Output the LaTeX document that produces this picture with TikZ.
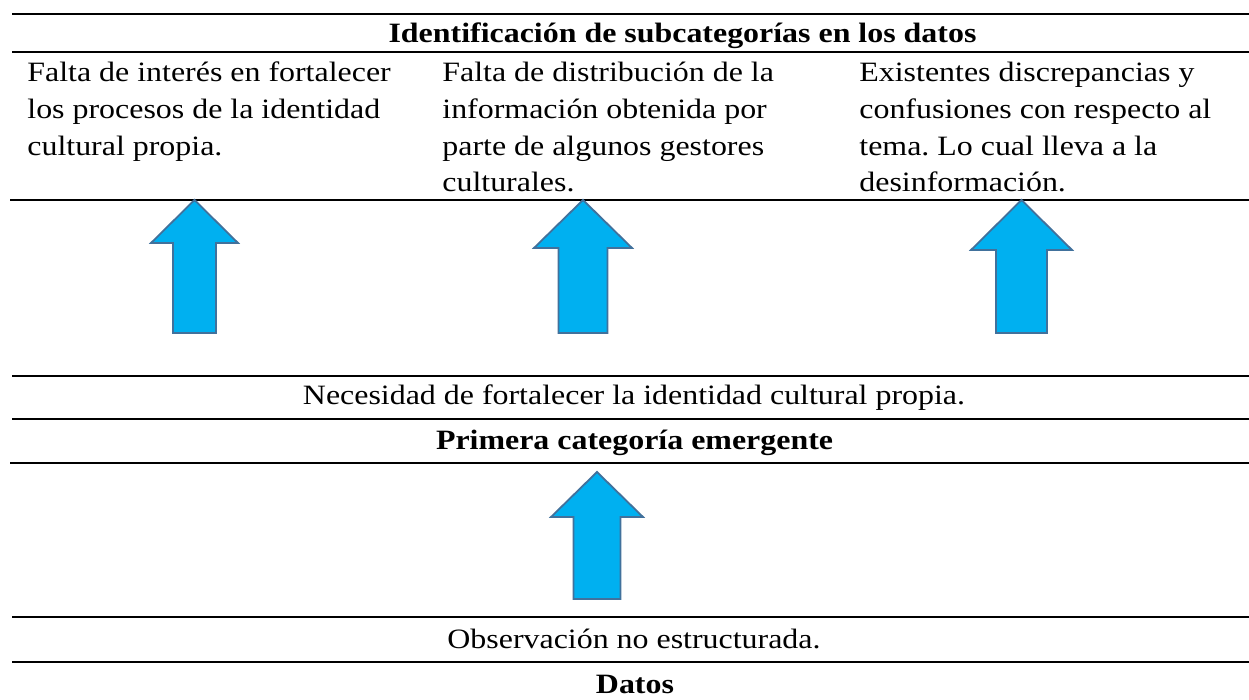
\documentclass[tikz,border=0pt]{standalone}
\usepackage{fontspec}
\setmainfont[FakeStretch=1.14]{Liberation Serif}
\frenchspacing
\definecolor{arrowfill}{HTML}{00B0F0}
\definecolor{arrowline}{HTML}{41719C}
\newcommand{\cellfont}{\fontsize{14}{18.35}\selectfont}
\newcommand{\celllines}[1]{\begin{tabular}[t]{@{}l@{}}#1\end{tabular}}
\tikzset{
  rule/.style={line width=0.8pt},
  blockarrow/.style={fill=arrowfill,draw=arrowline,line width=0.9pt,line join=miter},
  celltext/.style={anchor=base west,inner sep=0pt,font=\cellfont},
  rowtext/.style={anchor=base,inner sep=0pt,font=\cellfont},
  headtext/.style={anchor=base,inner sep=0pt,font=\cellfont\bfseries}
}

\begin{document}
\begin{tikzpicture}[x=0.5pt,y=-0.5pt]
\useasboundingbox (0,0) rectangle (1249,700);
\draw[rule] (12,14) -- (1249,14);
\draw[rule] (12,52) -- (1249,52);
\draw[rule] (10,200) -- (1249,200);
\draw[rule] (12,376) -- (1249,376);
\draw[rule] (12,419) -- (1249,419);
\draw[rule] (10,463) -- (1249,463);
\draw[rule] (12,617) -- (1249,617);
\draw[rule] (12,662) -- (1249,662);
\node[headtext] (subcat) at (682.5,43) {Identificación de subcategorías en los datos};
\node[celltext] (interes) at (27,81.7) {\celllines{Falta de interés en fortalecer\\los procesos de la identidad\\cultural propia.}};
\node[celltext] (distrib) at (442,81.7) {\celllines{Falta de distribución de la\\información obtenida por\\parte de algunos gestores\\culturales.}};
\node[celltext] (discrep) at (859,81.7) {\celllines{Existentes discrepancias y\\confusiones con respecto al\\tema. Lo cual lleva a la\\desinformación.}};
\node[rowtext] (necesidad) at (634,405) {Necesidad de fortalecer la identidad cultural propia.};
\node[headtext] (primera) at (634.5,450) {Primera categoría emergente};
\node[rowtext] (observ) at (634,648) {Observación no estructurada.};
\node[headtext] (datos) at (635,693) {Datos};
\foreach \cx/\tip/\head/\hw/\sw/\bot in {194.5/200/243/43.5/21.5/333,583/200/248/49/24.5/333,1021.5/200/250/50.5/25.5/333,597/472/517/46/23.5/599}
  \draw[blockarrow] (\cx,\tip) -- ({\cx+\hw},\head) -- ({\cx+\sw},\head) -- ({\cx+\sw},\bot)
    -- ({\cx-\sw},\bot) -- ({\cx-\sw},\head) -- ({\cx-\hw},\head) -- cycle;
\end{tikzpicture}
\end{document}
